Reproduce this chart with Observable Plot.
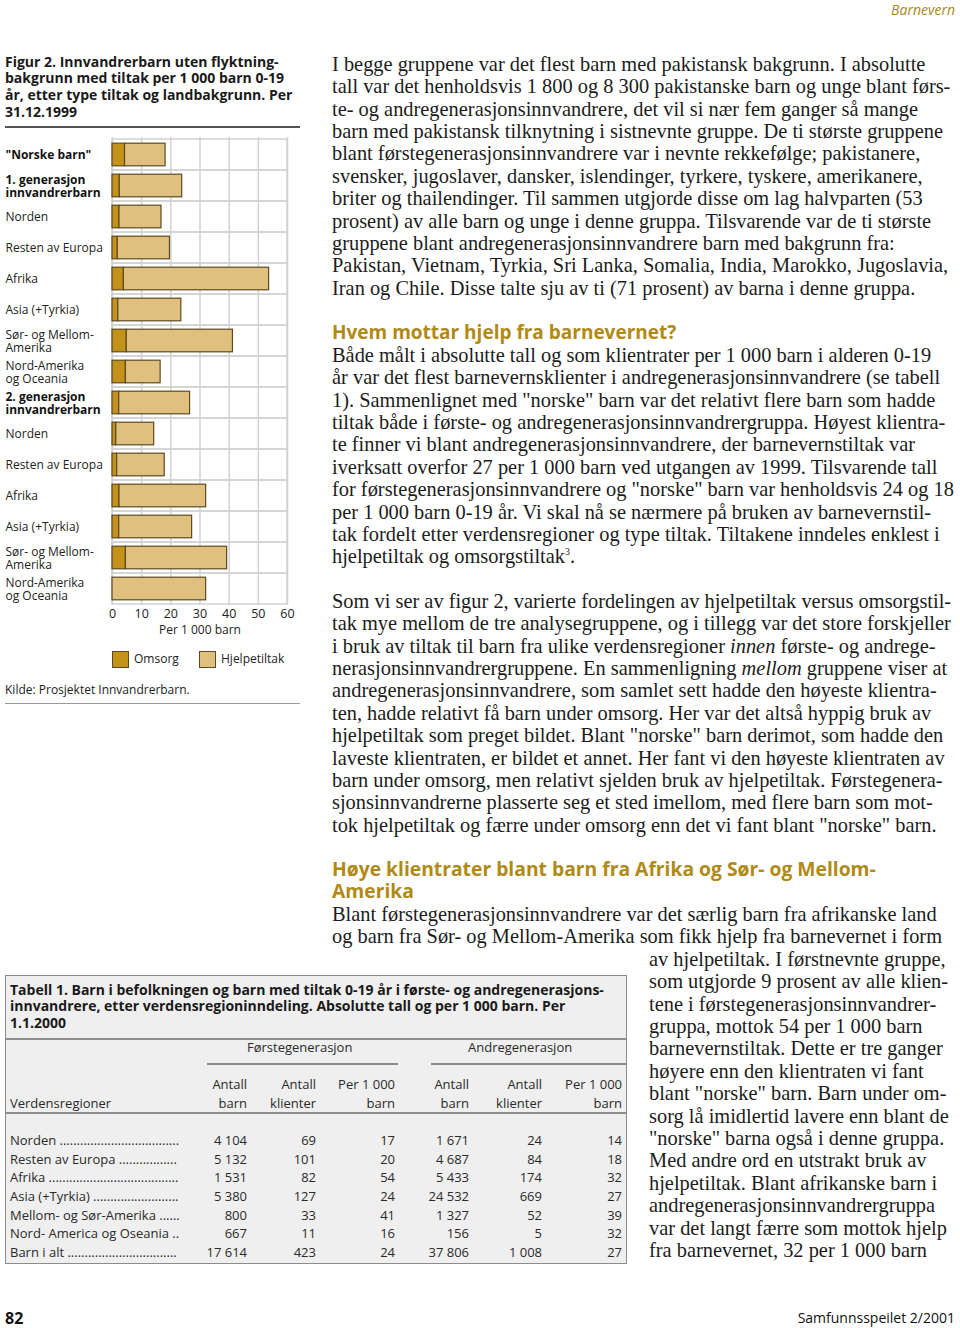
<!DOCTYPE html>
<html><head><meta charset="utf-8">
<script src="https://cdn.jsdelivr.net/npm/d3@7"></script>
<script src="https://cdn.jsdelivr.net/npm/@observablehq/plot@0.6"></script>
<style>
html,body{margin:0;padding:0;background:#fff;}
#page{position:relative;width:960px;height:1328px;overflow:hidden;background:#fff;color:#1e1e1e;}
.ln{position:absolute;white-space:nowrap;}
.sans{font-family:"Open Sans","Noto Sans",sans-serif;}
.serif{font-family:"Liberation Serif","Times New Roman",serif;font-size:20.4px;color:#1c1c1c;}
.rule{position:absolute;}
</style></head>
<body><div id="page"></div>
<script>
// ---------- chart data ----------
const categories = ['"Norske barn"', "1. generasjon\ninnvandrerbarn", "Norden", "Resten av Europa", "Afrika", "Asia (+Tyrkia)", "Sør- og Mellom-\nAmerika", "Nord-Amerika\nog Oceania", "2. generasjon\ninnvandrerbarn", "Norden", "Resten av Europa", "Afrika", "Asia (+Tyrkia)", "Sør- og Mellom-\nAmerika", "Nord-Amerika\nog Oceania"];
const boldRows = [0, 1, 8];
const omsorg = [4.3, 2.5, 2.4, 1.8, 3.9, 2.0, 4.9, 4.6, 2.3, 1.3, 1.6, 2.4, 2.3, 4.6, 0];
const hjelpetiltak = [13.9, 21.4, 14.4, 17.9, 49.8, 21.6, 36.4, 11.9, 24.3, 13.0, 16.3, 29.7, 25.0, 34.7, 32.1];
const series = ["Omsorg", "Hjelpetiltak"];
const seriesColors = ["#c2921b", "#dfc07e"];
const xTicks = [0, 10, 20, 30, 40, 50, 60];

// ---------- table data ----------
const tableRegions = ["Norden", "Resten av Europa", "Afrika", "Asia (+Tyrkia)", "Mellom- og Sør-Amerika", "Nord- America og Oseania", "Barn i alt"];
const g1Barn = ["4 104", "5 132", "1 531", "5 380", "800", "667", "17 614"];
const g1Klienter = ["69", "101", "82", "127", "33", "11", "423"];
const g1Per1000 = ["17", "20", "54", "24", "41", "16", "24"];
const g2Barn = ["1 671", "4 687", "5 433", "24 532", "1 327", "156", "37 806"];
const g2Klienter = ["24", "84", "174", "669", "52", "5", "1 008"];
const g2Per1000 = ["14", "18", "32", "27", "39", "32", "27"];

const page = document.getElementById("page");
function el(tag, cls, css, html) {
  const e = document.createElement(tag);
  if (cls) e.className = cls;
  Object.assign(e.style, css);
  if (html !== undefined) e.innerHTML = html;
  page.appendChild(e);
  return e;
}
function lines(arr, x, yc, lh, cls, css = {}) {
  arr.forEach((t, k) => {
    el("div", "ln " + cls, Object.assign({left: x + "px", top: (yc - lh / 2 + k * lh) + "px", height: lh + "px", lineHeight: lh + "px"}, css), t);
  });
}
function rline(text, right, yc, lh, cls, css = {}) {
  el("div", "ln " + cls, Object.assign({right: (960 - right) + "px", top: (yc - lh / 2) + "px", height: lh + "px", lineHeight: lh + "px", textAlign: "right"}, css), text);
}
function hrule(x1, x2, y, w, c) {
  el("div", "rule", {left: x1 + "px", top: (y - w / 2) + "px", width: (x2 - x1) + "px", height: w + "px", background: c});
}

// header / footer
rline("Barnevern", 955, 10, 16, "sans", {fontSize: "14px", fontStyle: "italic", color: "#a8891c"});
lines(["82"], 5, 1318, 18, "sans", {fontSize: "16px", fontWeight: "bold", color: "#111"});
rline("Samfunnsspeilet 2/2001", 955, 1318, 18, "sans", {fontSize: "14px", color: "#111"});

// figure title
lines(["Figur 2. Innvandrerbarn uten flyktning-", "bakgrunn med tiltak per 1 000 barn 0-19", "år, etter type tiltak og landbakgrunn. Per", "31.12.1999"], 5, 62, 16.7, "sans", {fontSize: "14px", fontWeight: "bold", color: "#1a1a1a"});
hrule(5, 300, 127, 1.5, "#555");

// chart
const rows = categories.map((label, i) => ({i, label, bold: boldRows.includes(i)}));
const long = [];
categories.forEach((c, i) => {
  long.push({row: i, type: series[0], value: omsorg[i]});
  long.push({row: i, type: series[1], value: hjelpetiltak[i]});
});
const chart = Plot.plot({
  width: 305, height: 513,
  marginLeft: 112, marginRight: 18, marginTop: 10, marginBottom: 35,
  x: {domain: [0, 60], ticks: xTicks, tickSize: 0, tickPadding: 4, label: null, tickFormat: d => String(d)},
  y: {domain: d3.range(categories.length), padding: 0, axis: null},
  color: {domain: series, range: seriesColors},
  style: {fontFamily: "'Open Sans', sans-serif", fontSize: "12.5px", color: "#222", background: "transparent", overflow: "visible"},
  marks: [
    Plot.barX(rows, {y: "i", x1: 0, x2: 60, fill: "none", stroke: "#d2d2d2", strokeWidth: 1.5}),
    Plot.gridX(xTicks, {stroke: "#d2d2d2", strokeOpacity: 1, strokeWidth: 1.5}),
    Plot.barX(long.filter(d => d.value > 0), {x: "value", y: "row", fill: "type", stroke: "#5e4a22", strokeWidth: 1.2, insetTop: 4.2, insetBottom: 4.2}),
    Plot.text(rows.filter(d => !d.bold), {y: "i", text: "label", frameAnchor: "left", textAnchor: "start", dx: -107, lineAnchor: "middle", lineHeight: 1.12, fill: "#222", fontSize: 12}),
    Plot.text(rows.filter(d => d.bold), {y: "i", text: "label", frameAnchor: "left", textAnchor: "start", dx: -107, lineAnchor: "middle", lineHeight: 1.12, fill: "#111", fontSize: 12, fontWeight: "bold"}),
    Plot.text(["Per 1 000 barn"], {frameAnchor: "bottom", dy: 28, fill: "#222", fontSize: 12})
  ]
});
chart.style.position = "absolute";
chart.style.left = "0px";
chart.style.top = "127px";
page.appendChild(chart);

// legend
const legX = [112, 199];
series.forEach((s, k) => {
  el("div", "", {position: "absolute", left: legX[k] + "px", top: "651px", width: "15px", height: "15px", background: seriesColors[k], border: "1px solid #5e4a22"});
  lines([s], legX[k] + 22, 659, 16, "sans", {fontSize: "12px", color: "#222"});
});
lines(["Kilde: Prosjektet Innvandrerbarn."], 5, 690, 16, "sans", {fontSize: "12px", color: "#222"});
hrule(5, 300, 703, 1, "#999");

// right column text
const LH = 22.4;
lines([
  "I begge gruppene var det flest barn med pakistansk bakgrunn. I absolutte",
  "tall var det henholdsvis 1 800 og 8 300 pakistanske barn og unge blant førs-",
  "te- og andregenerasjonsinnvandrere, det vil si nær fem ganger så mange",
  "barn med pakistansk tilknytning i sistnevnte gruppe. De ti største gruppene",
  "blant førstegenerasjonsinnvandrere var i nevnte rekkefølge; pakistanere,",
  "svensker, jugoslaver, dansker, islendinger, tyrkere, tyskere, amerikanere,",
  "briter og thailendinger. Til sammen utgjorde disse om lag halvparten (53",
  "prosent) av alle barn og unge i denne gruppa. Tilsvarende var de ti største",
  "gruppene blant andregenerasjonsinnvandrere barn med bakgrunn fra:",
  "Pakistan, Vietnam, Tyrkia, Sri Lanka, Somalia, India, Marokko, Jugoslavia,",
  "Iran og Chile. Disse talte sju av ti (71 prosent) av barna i denne gruppa."
], 332, 64, LH, "serif");
lines(["Hvem mottar hjelp fra barnevernet?"], 332, 332, LH, "sans", {fontSize: "19px", fontWeight: "bold", color: "#b08a14"});
lines([
  "Både målt i absolutte tall og som klientrater per 1 000 barn i alderen 0-19",
  "år var det flest barnevernsklienter i andregenerasjonsinnvandrere (se tabell",
  "1). Sammenlignet med \"norske\" barn var det relativt flere barn som hadde",
  "tiltak både i første- og andregenerasjonsinnvandrergruppa. Høyest klientra-",
  "te finner vi blant andregenerasjonsinnvandrere, der barnevernstiltak var",
  "iverksatt overfor 27 per 1 000 barn ved utgangen av 1999. Tilsvarende tall",
  "for førstegenerasjonsinnvandrere og \"norske\" barn var henholdsvis 24 og 18",
  "per 1 000 barn 0-19 år. Vi skal nå se nærmere på bruken av barnevernstil-",
  "tak fordelt etter verdensregioner og type tiltak. Tiltakene inndeles enklest i",
  "hjelpetiltak og omsorgstiltak<sup style=\"font-size:10px;line-height:0\">3</sup>."
], 332, 355, LH, "serif");
lines([
  "Som vi ser av figur 2, varierte fordelingen av hjelpetiltak versus omsorgstil-",
  "tak mye mellom de tre analysegruppene, og i tillegg var det store forskjeller",
  "i bruk av tiltak til barn fra ulike verdensregioner <i>innen</i> første- og andrege-",
  "nerasjonsinnvandrergruppene. En sammenligning <i>mellom</i> gruppene viser at",
  "andregenerasjonsinnvandrere, som samlet sett hadde den høyeste klientra-",
  "ten, hadde relativt få barn under omsorg. Her var det altså hyppig bruk av",
  "hjelpetiltak som preget bildet. Blant \"norske\" barn derimot, som hadde den",
  "laveste klientraten, er bildet et annet. Her fant vi den høyeste klientraten av",
  "barn under omsorg, men relativt sjelden bruk av hjelpetiltak. Førstegenera-",
  "sjonsinnvandrerne plasserte seg et sted imellom, med flere barn som mot-",
  "tok hjelpetiltak og færre under omsorg enn det vi fant blant \"norske\" barn."
], 332, 601, LH, "serif");
lines(["Høye klientrater blant barn fra Afrika og Sør- og Mellom-", "Amerika"], 332, 869, LH, "sans", {fontSize: "19.3px", fontWeight: "bold", color: "#b08a14"});
lines([
  "Blant førstegenerasjonsinnvandrere var det særlig barn fra afrikanske land",
  "og barn fra Sør- og Mellom-Amerika som fikk hjelp fra barnevernet i form"
], 332, 914, LH, "serif");
lines([
  "av hjelpetiltak. I førstnevnte gruppe,",
  "som utgjorde 9 prosent av alle klien-",
  "tene i førstegenerasjonsinnvandrer-",
  "gruppa, mottok 54 per 1 000 barn",
  "barnevernstiltak. Dette er tre ganger",
  "høyere enn den klientraten vi fant",
  "blant \"norske\" barn. Barn under om-",
  "sorg lå imidlertid lavere enn blant de",
  "\"norske\" barna også i denne gruppa.",
  "Med andre ord en utstrakt bruk av",
  "hjelpetiltak. Blant afrikanske barn i",
  "andregenerasjonsinnvandrergruppa",
  "var det langt færre som mottok hjelp",
  "fra barnevernet, 32 per 1 000 barn"
], 649, 959, LH, "serif");

// table
el("div", "", {position: "absolute", left: "5px", top: "975px", width: "622px", height: "289px", background: "#efefef", border: "1.5px solid #8c8c8c", boxSizing: "border-box"});
lines([
  "Tabell 1. Barn i befolkningen og barn med tiltak 0-19 år i første- og andregenerasjons-",
  "innvandrere, etter verdensregioninndeling. Absolutte tall og per 1 000 barn. Per",
  "1.1.2000"
], 10, 990, 16.7, "sans", {fontSize: "14px", fontWeight: "bold", color: "#1a1a1a"});
hrule(5, 627, 1039, 1.5, "#8c8c8c");
const tcss = {fontSize: "13px", color: "#2a2a2a"};
lines(["Førstegenerasjon"], 247, 1047, 16, "sans", tcss);
lines(["Andregenerasjon"], 468, 1047, 16, "sans", tcss);
hrule(207, 398, 1064, 1.5, "#8c8c8c");
hrule(431, 627, 1064, 1.5, "#8c8c8c");
const colRight = [247, 316, 395, 469, 542, 622];
const head1 = ["Antall", "Antall", "Per 1 000", "Antall", "Antall", "Per 1 000"];
const head2 = ["barn", "klienter", "barn", "barn", "klienter", "barn"];
colRight.forEach((r, k) => {
  rline(head1[k], r, 1084, 16, "sans", tcss);
  rline(head2[k], r, 1103, 16, "sans", tcss);
});
lines(["Verdensregioner"], 10, 1103, 16, "sans", tcss);
hrule(5, 627, 1113, 1.5, "#8c8c8c");
const cols = [g1Barn, g1Klienter, g1Per1000, g2Barn, g2Klienter, g2Per1000];
const ctx = document.createElement("canvas").getContext("2d");
ctx.font = "13px 'Open Sans'";
function withLeader(name, maxW) {
  let s = name + " ";
  if (ctx.measureText(s + ".").width > maxW) return name;
  while (ctx.measureText(s + ".").width <= maxW) s += ".";
  return s;
}
tableRegions.forEach((reg, r) => {
  const yc = 1140 + r * 18.67;
  lines([withLeader(reg, 170)], 10, yc, 18, "sans", tcss);
  cols.forEach((c, k) => rline(c[r], colRight[k], yc, 18, "sans", tcss));
});
</script>
</body></html>
